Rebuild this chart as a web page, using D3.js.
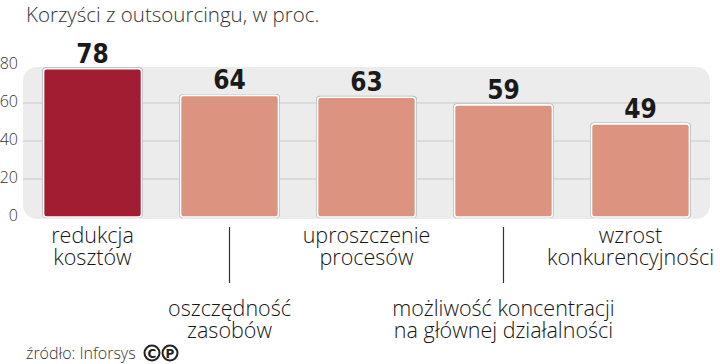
<!DOCTYPE html>
<html>
<head>
<meta charset="utf-8">
<script src="https://cdn.jsdelivr.net/npm/d3@7"></script>
<style>
  body { margin: 0; background: #fff; }
  svg { display: block; }
  .lbl { font-family: "Open Sans", sans-serif; font-weight: 300; fill: #151515; }
  .val { font-family: "Liberation Sans Narrow", "DejaVu Sans Condensed", sans-serif; font-weight: bold; fill: #1a1a1a; }
</style>
</head>
<body>
<div id="chart"></div>
<script>
// data
const categories = ["redukcja kosztów", "oszczędność zasobów", "uproszczenie procesów",
  "możliwość koncentracji na głównej działalności", "wzrost konkurencyjności"];
const labelLines = [
  ["redukcja", "kosztów"],
  ["oszczędność", "zasobów"],
  ["uproszczenie", "procesów"],
  ["możliwość koncentracji", "na głównej działalności"],
  ["wzrost", "konkurencyjności"]
];
const values = [78, 64, 63, 59, 49];
const yTicks = [0, 20, 40, 60, 80];

const W = 720, H = 364;
const svg = d3.select("#chart").append("svg").attr("width", W).attr("height", H);

const x = d3.scaleBand().domain(categories).range([23, 710]).paddingInner(0.285).paddingOuter(0.15);
const y = d3.scaleLinear().domain([0, 80]).range([217, 65]);

// title
svg.append("text").attr("class", "lbl").attr("x", 26).attr("y", 22)
  .style("font-size", "20.5px").style("fill", "#333")
  .text("Korzyści z outsourcingu, w proc.");

// plot background
svg.append("rect")
  .attr("x", 23).attr("y", y(80) + 2)
  .attr("width", 687).attr("height", y(0) - y(80))
  .attr("rx", 14)
  .attr("fill", "#ececec");

// grid
svg.selectAll(".grid").data(yTicks.filter(d => d > 0 && d < 80)).enter().append("line")
  .attr("x1", 23).attr("x2", 710)
  .attr("y1", d => y(d)).attr("y2", d => y(d))
  .attr("stroke", "#c9c9c9").attr("stroke-width", 1);

// y labels
svg.selectAll(".ytick").data(yTicks).enter().append("text")
  .attr("class", "lbl")
  .attr("x", 18).attr("y", d => y(d) + 4)
  .attr("text-anchor", "end")
  .style("font-size", "16px").style("fill", "#333")
  .text(d => d);

// bars: shadow outline then body
const bars = svg.selectAll(".bar").data(values).enter().append("g");
bars.append("rect")
  .attr("x", (d, i) => x(categories[i]) - 1.5)
  .attr("y", d => y(d) - 1.5)
  .attr("width", x.bandwidth() + 3)
  .attr("height", d => y(0) - y(d) + 2.5)
  .attr("rx", 4)
  .attr("fill", "#b5b5b5");
bars.append("rect")
  .attr("x", (d, i) => x(categories[i]))
  .attr("y", d => y(d))
  .attr("width", x.bandwidth())
  .attr("height", d => y(0) - y(d))
  .attr("rx", 3)
  .attr("fill", (d, i) => i === 0 ? "#a31d32" : "#dc9481")
  .attr("stroke", "#fff").attr("stroke-width", 1.6);

// value labels
svg.selectAll(".val").data(values).enter().append("text")
  .attr("class", "val")
  .attr("x", (d, i) => x(categories[i]) + x.bandwidth() / 2)
  .attr("y", d => y(d) - 6)
  .attr("text-anchor", "middle")
  .style("font-size", "26px")
  .text(d => d);

// category labels, alternating low/high
labelLines.forEach((lines, i) => {
  const cx = x(categories[i]) + x.bandwidth() / 2;
  const low = i % 2 === 1;
  const base = low ? 316 : 243;
  if (low) {
    svg.append("line")
      .attr("x1", cx).attr("x2", cx).attr("y1", 227).attr("y2", 283)
      .attr("stroke", "#333").attr("stroke-width", 1.2);
  }
  const texts = lines.map((s, k) => svg.append("text").attr("class", "lbl")
    .attr("text-anchor", "middle")
    .attr("x", cx).attr("y", base + k * 22)
    .style("font-size", "21.5px")
    .text(s));
  // keep inside right edge
  const right = d3.max(texts, t => { const b = t.node().getBBox(); return b.x + b.width; });
  if (right > 714) texts.forEach(t => t.attr("x", cx - (right - 714)));
});

// source
svg.append("text").attr("class", "lbl").attr("x", 26).attr("y", 359)
  .style("font-size", "16px").style("fill", "#333")
  .text("źródło: Inforsys");
["C", "P"].forEach((c, i) => {
  const cx = 152 + i * 18;
  svg.append("circle").attr("cx", cx).attr("cy", 353).attr("r", 7.5)
    .attr("fill", "none").attr("stroke", "#222").attr("stroke-width", 2);
  svg.append("text").attr("x", cx).attr("y", 357.5).attr("text-anchor", "middle")
    .style("font-family", "DejaVu Sans, sans-serif").style("font-weight", "bold")
    .style("font-size", "12px").style("fill", "#222").text(c);
});
</script>
</body>
</html>
